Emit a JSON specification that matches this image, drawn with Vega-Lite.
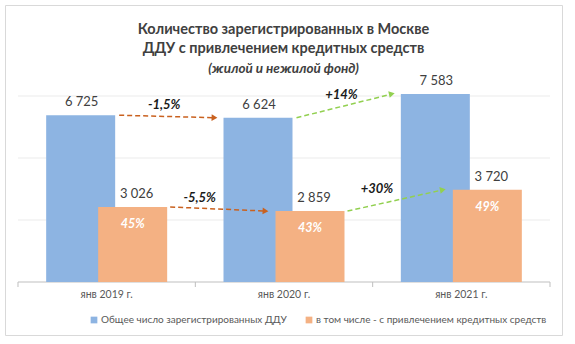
{
  "$schema": "https://vega.github.io/schema/vega-lite/v6.json",
  "width": 557,
  "height": 330,
  "autosize": {"type": "none"},
  "padding": {"left": 5, "top": 5, "right": 13, "bottom": 9},
  "background": "white",
  "config": {
    "view": {"stroke": "#D9D9D9", "strokeWidth": 1},
    "font": "Lato",
    "locale": {"number": {"decimal": ",", "thousands": " ", "grouping": [3], "currency": ["", ""], "minus": "-", "percent": "%"}},
    "legend": {"orient": "none", "direction": "horizontal", "legendX": 84, "legendY": 310, "title": null, "symbolType": "square", "symbolSize": 45, "labelFont": "Lato", "labelFontSize": 10, "labelColor": "#595959", "labelLimit": 0, "columnPadding": 17, "labelOffset": 2, "padding": 0}
  },
  "title": {
    "text": ["Количество зарегистрированных в Москве", "ДДУ с привлечением кредитных средств"],
    "subtitle": "(жилой и нежилой фонд)",
    "frame": "group",
    "anchor": "middle",
    "offset": -71,
    "font": "Lato",
    "fontSize": 14.5,
    "fontWeight": "bold",
    "color": "#404040",
    "lineHeight": 19,
    "subtitleFont": "Lato",
    "subtitleFontSize": 13.5,
    "subtitleFontStyle": "italic",
    "subtitleFontWeight": "bold",
    "subtitleColor": "#404040",
    "subtitlePadding": 5
  },
  "datasets": {
    "bars": [
      {"year": "янв 2019 г.", "series": "Общее число зарегистрированных ДДУ", "value": 6725},
      {"year": "янв 2020 г.", "series": "Общее число зарегистрированных ДДУ", "value": 6624},
      {"year": "янв 2021 г.", "series": "Общее число зарегистрированных ДДУ", "value": 7583},
      {"year": "янв 2019 г.", "series": "в том числе - с привлечением кредитных средств", "value": 3026, "share": 0.45},
      {"year": "янв 2020 г.", "series": "в том числе - с привлечением кредитных средств", "value": 2859, "share": 0.43},
      {"year": "янв 2021 г.", "series": "в том числе - с привлечением кредитных средств", "value": 3720, "share": 0.49}
    ],
    "arrows": [
      {"series": "total", "from": "янв 2019 г.", "to": "янв 2020 г.", "fromVal": 6725, "toVal": 6624, "change": -0.015},
      {"series": "total", "from": "янв 2020 г.", "to": "янв 2021 г.", "fromVal": 6624, "toVal": 7583, "change": 0.14},
      {"series": "credit", "from": "янв 2019 г.", "to": "янв 2020 г.", "fromVal": 3026, "toVal": 2859, "change": -0.055},
      {"series": "credit", "from": "янв 2020 г.", "to": "янв 2021 г.", "fromVal": 2859, "toVal": 3720, "change": 0.30}
    ],
    "grid": [{"v": 0}, {"v": 2500}, {"v": 5000}, {"v": 7500}]
  },
  "layer": [
    {
      "data": {"name": "grid"},
      "mark": {"type": "rule", "xOffset": -88.67, "x2Offset": 88.67, "strokeWidth": 1},
      "encoding": {
        "x": {
          "datum": "янв 2019 г.", "type": "nominal",
          "scale": {"domain": ["янв 2019 г.", "янв 2020 г.", "янв 2021 г."], "paddingInner": 0, "paddingOuter": 0.0705, "align": 0.52},
          "axis": {"title": null, "offset": -53, "domain": false, "ticks": false, "labelPadding": 7, "labelFont": "Lato", "labelFontSize": 10.5, "labelColor": "#595959", "labelAngle": 0}
        },
        "x2": {"datum": "янв 2021 г."},
        "y": {"field": "v", "type": "quantitative", "scale": {"domain": [-2137, 11169], "nice": false, "zero": false}, "axis": null},
        "color": {"condition": {"test": "datum.v == 0", "value": "#BFBFBF"}, "value": "#EBEBEB"}
      }
    },
    {
      "data": {"name": "bars"},
      "transform": [{"filter": "datum.series == 'Общее число зарегистрированных ДДУ'"}],
      "mark": {"type": "rule", "xOffset": 88.67, "y2Offset": 5, "color": "#BFBFBF", "strokeWidth": 1},
      "encoding": {
        "x": {"field": "year", "type": "nominal", "sort": null, "title": null},
        "y": {"datum": 0, "type": "quantitative"},
        "y2": {"datum": 0}
      }
    },
    {
      "data": {"name": "bars"},
      "transform": [{"filter": "datum.series == 'Общее число зарегистрированных ДДУ' && datum.year == 'янв 2019 г.'"}],
      "mark": {"type": "rule", "xOffset": -88.67, "y2Offset": 5, "color": "#BFBFBF", "strokeWidth": 1},
      "encoding": {
        "x": {"field": "year", "type": "nominal", "sort": null, "title": null},
        "y": {"datum": 0, "type": "quantitative"},
        "y2": {"datum": 0}
      }
    },
    {
      "data": {"name": "bars"},
      "transform": [{"filter": "datum.series == 'Общее число зарегистрированных ДДУ'"}],
      "mark": {"type": "bar", "width": 69, "xOffset": -26},
      "encoding": {
        "x": {"field": "year", "type": "nominal", "sort": null, "title": null},
        "y": {"field": "value", "type": "quantitative"},
        "y2": {"datum": 0},
        "color": {"field": "series", "type": "nominal", "scale": {"domain": ["Общее число зарегистрированных ДДУ", "в том числе - с привлечением кредитных средств"], "range": ["#8DB4E2", "#F4B183"]}}
      }
    },
    {
      "data": {"name": "bars"},
      "transform": [{"filter": "datum.series != 'Общее число зарегистрированных ДДУ'"}],
      "mark": {"type": "bar", "width": 69, "xOffset": 26},
      "encoding": {
        "x": {"field": "year", "type": "nominal", "sort": null, "title": null},
        "y": {"field": "value", "type": "quantitative"},
        "y2": {"datum": 0},
        "color": {"field": "series", "type": "nominal"}
      }
    },
    {
      "data": {"name": "bars"},
      "transform": [{"filter": "datum.series == 'Общее число зарегистрированных ДДУ'"}],
      "mark": {"type": "text", "xOffset": -25, "dy": -6, "baseline": "bottom", "fontSize": 13, "color": "#404040", "font": "Lato"},
      "encoding": {
        "x": {"field": "year", "type": "nominal", "sort": null, "title": null},
        "y": {"field": "value", "type": "quantitative"},
        "text": {"field": "value", "type": "quantitative", "format": ",d"}
      }
    },
    {
      "data": {"name": "bars"},
      "transform": [{"filter": "datum.series != 'Общее число зарегистрированных ДДУ'"}],
      "mark": {"type": "text", "xOffset": 30, "dy": -6, "baseline": "bottom", "fontSize": 13, "color": "#404040", "font": "Lato"},
      "encoding": {
        "x": {"field": "year", "type": "nominal", "sort": null, "title": null},
        "y": {"field": "value", "type": "quantitative"},
        "text": {"field": "value", "type": "quantitative", "format": ",d"}
      }
    },
    {
      "data": {"name": "bars"},
      "transform": [{"filter": "datum.series != 'Общее число зарегистрированных ДДУ'"}],
      "mark": {"type": "text", "xOffset": 26, "dy": 17, "baseline": "middle", "fontSize": 12.5, "fontWeight": "bold", "fontStyle": "italic", "color": "white", "font": "Lato"},
      "encoding": {
        "x": {"field": "year", "type": "nominal", "sort": null, "title": null},
        "y": {"field": "value", "type": "quantitative"},
        "text": {"field": "share", "type": "quantitative", "format": ".0%"}
      }
    },
    {
      "data": {"name": "arrows"},
      "transform": [{"filter": "datum.series == 'total'"}],
      "mark": {"type": "rule", "xOffset": 12.5, "x2Offset": -69, "strokeDash": [5, 3], "strokeWidth": 1.5},
      "encoding": {
        "x": {"field": "from", "type": "nominal", "sort": null, "title": null},
        "x2": {"field": "to"},
        "y": {"field": "fromVal", "type": "quantitative"},
        "y2": {"field": "toVal"},
        "color": {"condition": {"test": "datum.change < 0", "value": "#C9611F"}, "value": "#92D050"}
      }
    },
    {
      "data": {"name": "arrows"},
      "transform": [{"filter": "datum.series == 'credit'"}],
      "mark": {"type": "rule", "xOffset": 63.5, "x2Offset": -18, "strokeDash": [5, 3], "strokeWidth": 1.5},
      "encoding": {
        "x": {"field": "from", "type": "nominal", "sort": null, "title": null},
        "x2": {"field": "to"},
        "y": {"field": "fromVal", "type": "quantitative"},
        "y2": {"field": "toVal"},
        "color": {"condition": {"test": "datum.change < 0", "value": "#C9611F"}, "value": "#92D050"}
      }
    },
    {
      "data": {"name": "arrows"},
      "transform": [{"filter": "datum.series == 'total'"}],
      "mark": {"type": "point", "shape": "triangle-right", "filled": true, "size": 45, "opacity": 1, "xOffset": -69.5},
      "encoding": {
        "x": {"field": "to", "type": "nominal", "sort": null, "title": null},
        "y": {"field": "toVal", "type": "quantitative"},
        "angle": {"condition": {"test": "datum.change < 0", "value": 2}, "value": -13},
        "color": {"condition": {"test": "datum.change < 0", "value": "#C9611F"}, "value": "#92D050"}
      }
    },
    {
      "data": {"name": "arrows"},
      "transform": [{"filter": "datum.series == 'credit'"}],
      "mark": {"type": "point", "shape": "triangle-right", "filled": true, "size": 45, "opacity": 1, "xOffset": -18.5},
      "encoding": {
        "x": {"field": "to", "type": "nominal", "sort": null, "title": null},
        "y": {"field": "toVal", "type": "quantitative"},
        "angle": {"condition": {"test": "datum.change < 0", "value": 2.5}, "value": -12},
        "color": {"condition": {"test": "datum.change < 0", "value": "#C9611F"}, "value": "#92D050"}
      }
    },
    {
      "data": {"name": "arrows"},
      "transform": [{"filter": "datum.series == 'total'"}, {"calculate": "(datum.fromVal + datum.toVal) / 2", "as": "mid"}],
      "mark": {"type": "text", "xOffset": 57.5, "dy": -11, "baseline": "middle", "fontSize": 13, "fontWeight": "bold", "fontStyle": "italic", "color": "#1A1A1A", "font": "Lato"},
      "encoding": {
        "x": {"field": "from", "type": "nominal", "sort": null, "title": null},
        "y": {"field": "mid", "type": "quantitative"},
        "text": {"field": "change", "type": "quantitative", "format": "+.1~%"}
      }
    },
    {
      "data": {"name": "arrows"},
      "transform": [{"filter": "datum.series == 'credit'"}, {"calculate": "(datum.fromVal + datum.toVal) / 2", "as": "mid"}],
      "mark": {"type": "text", "xOffset": 93, "dy": -11, "baseline": "middle", "fontSize": 13, "fontWeight": "bold", "fontStyle": "italic", "color": "#1A1A1A", "font": "Lato"},
      "encoding": {
        "x": {"field": "from", "type": "nominal", "sort": null, "title": null},
        "y": {"field": "mid", "type": "quantitative"},
        "text": {"field": "change", "type": "quantitative", "format": "+.1~%"}
      }
    }
  ]
}
